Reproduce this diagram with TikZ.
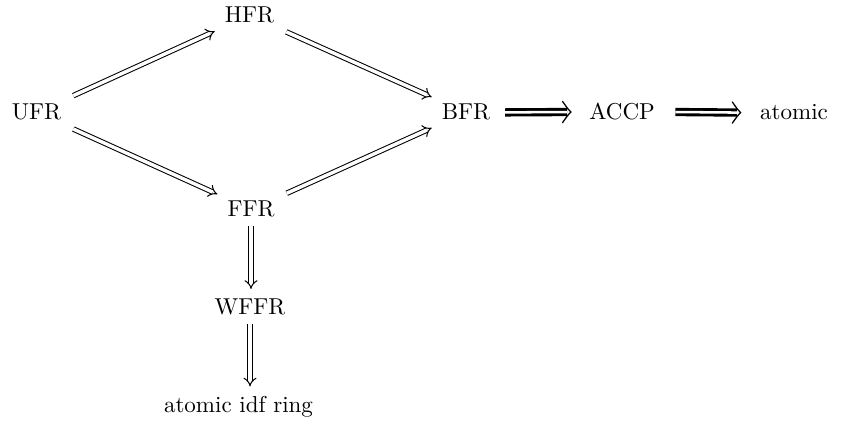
\documentclass[tikz,border=0pt]{standalone}
\usetikzlibrary{arrows.meta}
\begin{document}
\begin{tikzpicture}[x=0.4348pt,y=-0.4348pt,
  lbl/.style={inner sep=3.3pt,anchor=base},
  thin2/.style={double,line width=0.45pt,double distance=1.5pt,-{Implies},shorten <=2pt,shorten >=1pt},
  thick2/.style={double,line width=1.25pt,double distance=1.1pt},
  tipline/.style={line width=0.55pt,line cap=round}]
\useasboundingbox (0,0) rectangle (841,426);
\node[lbl] (HFR) at (249.5,23) {HFR};
\node[lbl] (UFR) at (36.5,120) {UFR};
\node[lbl] (BFR) at (466,120) {BFR};
\node[lbl] (ACCP) at (622,120) {ACCP};
\node[lbl] (atomic) at (794,120) {atomic};
\node[lbl] (FFR) at (251,217) {FFR};
\node[lbl] (WFFR) at (250,315) {WFFR};
\node[lbl] (ring) at (238.5,413) {atomic idf ring};
\draw[thin2] (UFR) -- (HFR);
\draw[thin2] (HFR) -- (BFR);
\draw[thin2] (UFR) -- (FFR);
\draw[thin2] (FFR) -- (BFR);
\draw[thin2,shorten <=0pt] (FFR.south) -- (FFR.south |- WFFR.north);
\draw[thin2,shorten <=0pt] (WFFR.south) -- (WFFR.south |- ring.north);
% thick horizontal arrows
\path ([xshift=-4.5pt]ACCP.west) coordinate (t1);
\path ([xshift=-5pt]atomic.west) coordinate (t2);
\draw[thick2] ([xshift=3pt]BFR.east) -- ([xshift=-1.6pt]t1);
\draw[tipline] ([shift={(-3.6pt,4.6pt)}]t1) .. controls ([shift={(-1.2pt,1.2pt)}]t1) .. (t1) .. controls ([shift={(-1.2pt,-1.2pt)}]t1) .. ([shift={(-3.6pt,-4.6pt)}]t1);
\draw[thick2] ([xshift=5.5pt]ACCP.east) -- ([xshift=-1.6pt]t2);
\draw[tipline] ([shift={(-3.6pt,4.6pt)}]t2) .. controls ([shift={(-1.2pt,1.2pt)}]t2) .. (t2) .. controls ([shift={(-1.2pt,-1.2pt)}]t2) .. ([shift={(-3.6pt,-4.6pt)}]t2);
\end{tikzpicture}
\end{document}
